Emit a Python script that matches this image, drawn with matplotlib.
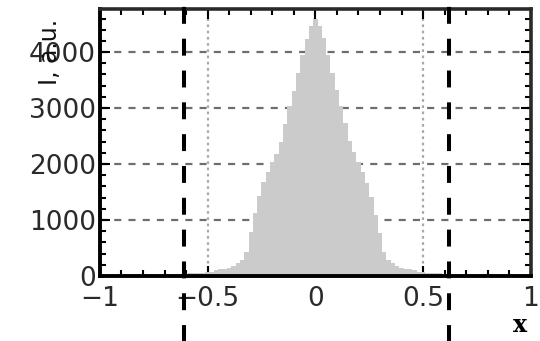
import matplotlib
matplotlib.use('Agg')
import matplotlib.pyplot as plt
import numpy as np
from matplotlib.ticker import MultipleLocator

# histograma de intensidad, bines de 0.02 centrados en -0.62 ... 0.62
bin_width = 0.02
bin_centers = np.round(np.arange(-0.62, 0.6201, bin_width), 3)
counts = [35, 40, 45, 50, 55, 60, 70, 80, 100, 120, 130, 140, 180, 230, 290,
          420, 790, 1120, 1430, 1680, 1860, 2030, 2180, 2400, 2720, 3040, 3310,
          3620, 3950, 4240, 4460, 4600, 4470, 4260, 3950, 3630, 3320, 3040,
          2730, 2420, 2210, 2040, 1850, 1660, 1410, 1090, 770, 430, 290, 230,
          180, 145, 130, 120, 100, 80, 70, 60, 55, 50, 45, 40, 35]

# limites de la ventana (lineas discontinuas)
cut_left = -0.61
cut_right = 0.62

xticks = [-1, -0.5, 0, 0.5, 1]
xtick_labels = ['\u22121', '\u22120.5', '0', '0.5', '1']
yticks = [0, 1000, 2000, 3000, 4000]

fig = plt.figure(figsize=(5.4, 3.41), dpi=100)
ax = fig.add_axes([0.185, 0.1906, 0.798, 0.783])

edges = np.append(bin_centers - bin_width / 2, bin_centers[-1] + bin_width / 2)
ax.stairs(counts, edges, fill=True, color='#cbcbcb', zorder=2)

# rejilla: horizontal discontinua, vertical punteada
for yv in yticks[1:]:
    ax.axhline(yv, color='#6e6e6e', lw=1.6, linestyle=(0, (3.2, 3.2)), zorder=1)
for xv in [-0.5, 0, 0.5]:
    ax.axvline(xv, color='#a8a8a8', lw=1.6, linestyle=(0, (1.2, 1.6)), zorder=1)

for xc in [cut_left, cut_right]:
    ax.axvline(xc, ymin=-0.25, ymax=1.05, color='black', lw=2.9,
               linestyle=(0, (4.2, 3.7)), clip_on=False, zorder=5)

ax.set_xlim(-1, 1)
ax.set_ylim(0, 4770)
ax.set_xticks(xticks)
ax.set_xticklabels(xtick_labels)
ax.set_yticks(yticks)
ax.xaxis.set_minor_locator(MultipleLocator(0.1))
ax.yaxis.set_minor_locator(MultipleLocator(200))

ax.tick_params(which='both', direction='in', top=True, right=True,
               labelsize=19, labelcolor='#2a2a2a', width=1.5)
ax.tick_params(which='major', length=7)
ax.tick_params(which='minor', length=4)
ax.tick_params(axis='x', pad=7)
ax.tick_params(axis='y', pad=3)

for side in ['left', 'bottom']:
    ax.spines[side].set_linewidth(2.8)
    ax.spines[side].set_color('black')
for side in ['top', 'right']:
    ax.spines[side].set_linewidth(2.6)
    ax.spines[side].set_color('#2a2a2a')

ax.text(-0.115, 0.84, 'I, a.u.', rotation=90, transform=ax.transAxes,
        ha='center', va='center', fontsize=17, color='#111111')
ax.text(0.975, -0.185, 'x', transform=ax.transAxes, ha='center', va='center',
        fontsize=17, fontweight='bold', family='DejaVu Serif')

fig.savefig('out.png', dpi=100)
